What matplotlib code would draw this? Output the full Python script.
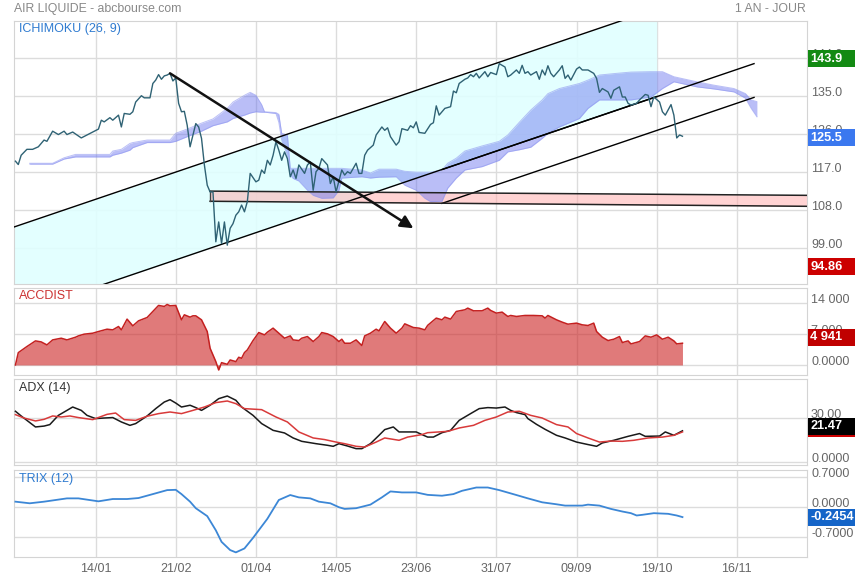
"""
plot.py

Redraws the AIR LIQUIDE daily chart (abcbourse style):
- Ichimoku panel with price, cloud, trend channel and drawings
- ACCDIST, ADX (14) and TRIX (12) panels below
"""

import matplotlib
matplotlib.use("Agg")
import matplotlib.pyplot as plt
from matplotlib.patches import Rectangle
from matplotlib.transforms import IdentityTransform, blended_transform_factory, offset_copy

plt.rcParams["font.family"] = ["Liberation Sans", "DejaVu Sans"]

W, H = 855, 580
LEFT, RIGHT = 14, 807
GRID = "#dcdcdc"
LABEL_SIZE = 9.0

# x axis: trading-day index, one label every 28 sessions
tick_pos = [28, 56, 84, 112, 140, 168, 196, 224, 252]
tick_labels = ["14/01", "21/02", "01/04", "14/05", "23/06", "31/07", "09/09", "19/10", "16/11"]

# closing price
price_idx = [0, 1, 2, 4, 6, 8, 10, 11, 13, 15, 17, 18, 20, 23, 25, 27, 29, 30, 31, 33,
             34, 36, 37, 38, 40, 41, 42, 44, 45, 47, 48, 49, 50, 51, 52, 53, 54, 55, 56, 57,
             58, 59, 60, 61, 62, 63, 64, 65, 66, 67, 68, 69, 70, 71, 72, 73, 74, 75, 76, 77,
             78, 79, 80, 81, 82, 84, 85, 86, 87, 88, 89, 90, 91, 92, 93, 94, 95, 96, 97, 98,
             99, 101, 102, 103, 104, 105, 106, 107, 109, 110, 111, 112, 114, 115, 116, 117, 119, 120, 121, 122,
             123, 125, 126, 128, 129, 130, 131, 133, 134, 135, 137, 138, 139, 140, 141, 143, 145, 146, 147, 148,
             150, 152, 153, 154, 155, 157, 158, 159, 160, 161, 162, 164, 165, 166, 168, 169, 171, 172, 173, 175,
             176, 177, 178, 179, 180, 182, 183, 184, 185, 186, 187, 188, 190, 191, 192, 193, 194, 196, 197, 198,
             200, 202, 203, 204, 205, 207, 208, 209, 211, 212, 213, 214, 215, 217, 218, 220, 221, 222, 223, 225,
             226, 227, 229, 230, 231, 232, 233]
price_close = [119.6, 118.8, 121.0, 122.4, 122.4, 123.0, 124.6, 124.3, 126.7, 125.9, 126.7, 125.9, 126.5, 125.1, 125.8, 126.5, 127.2, 129.3, 128.9, 129.9,
               129.3, 130.5, 127.7, 130.9, 130.7, 131.3, 133.6, 135.1, 134.6, 134.6, 138.0, 138.8, 140.1, 139.0, 139.8, 140.0, 140.4, 138.6, 139.3, 133.3,
               131.3, 131.4, 128.1, 123.0, 125.8, 128.5, 127.7, 125.0, 118.7, 113.9, 112.3, 112.3, 100.5, 105.2, 100.1, 105.2, 99.7, 103.7, 104.8, 106.8,
               107.6, 109.2, 107.6, 110.0, 116.7, 114.7, 115.1, 117.5, 116.7, 119.8, 118.7, 121.0, 124.2, 122.2, 119.8, 121.8, 120.2, 115.9, 117.5, 115.5,
               118.7, 116.7, 118.7, 119.4, 112.7, 117.1, 117.9, 120.2, 118.7, 114.3, 115.9, 112.3, 117.5, 116.3, 117.1, 116.7, 119.1, 116.7, 116.7, 121.0,
               122.2, 123.4, 125.8, 127.7, 126.9, 127.5, 125.4, 123.4, 124.2, 127.3, 126.9, 128.0, 127.5, 128.9, 126.4, 126.2, 128.3, 128.7, 132.7, 130.5,
               132.1, 132.5, 136.2, 135.8, 138.0, 139.0, 139.3, 140.1, 139.6, 140.4, 139.3, 140.8, 139.6, 140.6, 140.1, 142.7, 141.9, 139.6, 140.0, 141.2,
               140.4, 142.3, 140.4, 140.8, 140.0, 140.8, 139.0, 141.2, 140.0, 142.2, 140.4, 139.6, 141.2, 142.2, 139.2, 140.0, 138.8, 141.4, 141.9, 141.2,
               141.2, 140.4, 139.2, 135.9, 136.8, 136.0, 134.5, 136.4, 137.2, 134.8, 134.8, 133.3, 132.9, 133.3, 134.1, 135.4, 135.2, 132.5, 134.8, 133.6,
               131.3, 130.5, 133.0, 130.5, 125.1, 125.8, 125.5]

# Ichimoku cloud edges (projected 26 sessions ahead)
cloud_idx = [5, 13, 17, 21, 33, 34, 37, 40, 41, 46, 54, 56, 60, 65, 69, 74, 76, 80, 82, 84,
             86, 87, 91, 92, 93, 95, 96, 97, 99, 102, 104, 107, 111, 113, 114, 121, 124, 127, 133, 136,
             140, 143, 145, 149, 151, 154, 157, 163, 169, 172, 176, 180, 184, 186, 190, 197, 200, 204, 210, 215,
             222, 226, 230, 238, 244, 251, 255, 257, 259]
cloud_top = [119.1, 119.1, 120.4, 121.2, 121.2, 122.0, 122.4, 123.8, 124.0, 124.6, 124.6, 126.2, 127.2, 128.6, 129.6, 132.1, 133.6, 135.2, 135.9, 135.2,
             133.0, 131.3, 131.1, 130.7, 126.2, 125.8, 117.9, 117.9, 117.9, 117.9, 117.9, 117.9, 117.9, 117.9, 117.9, 117.5, 116.8, 117.7, 117.7, 117.2,
             117.0, 117.0, 117.0, 117.5, 119.1, 120.3, 122.0, 123.2, 124.3, 125.8, 128.8, 131.7, 134.1, 135.6, 136.8, 138.0, 138.8, 140.0, 140.4, 140.7,
             140.8, 140.8, 139.6, 138.4, 137.6, 136.8, 135.6, 134.1, 133.7]
cloud_bottom = [118.9, 118.9, 120.1, 120.6, 120.6, 121.0, 121.5, 122.2, 122.8, 124.0, 124.0, 124.3, 125.4, 126.7, 128.0, 128.9, 129.7, 130.5, 131.0, 131.3,
                131.2, 131.2, 130.9, 128.8, 124.6, 121.0, 116.3, 115.5, 114.9, 112.7, 111.5, 110.8, 110.9, 112.7, 115.6, 115.9, 115.6, 115.8, 115.9, 113.9,
                112.7, 110.8, 110.0, 110.1, 113.2, 115.6, 117.5, 118.3, 119.8, 121.8, 122.3, 122.9, 125.0, 126.2, 127.7, 129.7, 132.1, 134.1, 134.1, 134.1,
                134.8, 136.8, 138.4, 137.2, 136.7, 136.0, 134.5, 132.1, 130.1]

# drawings on the price panel
channel_x = [-0.5, 224]
channel_upper = [104.0, 155.7]
channel_lower = [83.2, 134.9]
trend_x = [149, 258]
trend_upper = [117.6, 142.7]
trend_lower = [109.6, 134.7]
band_x = [68, 277]
band_top = [112.5, 111.5]
band_bottom = [110.1, 108.9]
arrow_x = [54, 139]
arrow_y = [140.4, 103.7]

# accumulation / distribution
acc_idx = [0, 1, 4, 7, 9, 11, 13, 16, 18, 21, 22, 24, 27, 29, 32, 34, 36, 37, 39, 41,
           43, 46, 48, 50, 52, 53, 54, 56, 58, 59, 61, 62, 63, 65, 67, 68, 70, 71, 72, 74,
           75, 77, 78, 79, 80, 81, 83, 85, 87, 88, 90, 92, 94, 96, 97, 99, 100, 102, 104, 106,
           107, 109, 111, 113, 114, 115, 117, 119, 121, 122, 124, 126, 127, 129, 131, 133, 135, 136, 139, 141,
           143, 144, 147, 149, 150, 152, 154, 157, 158, 160, 163, 165, 166, 168, 170, 172, 173, 175, 178, 181,
           184, 185, 186, 189, 191, 193, 196, 198, 200, 202, 203, 205, 207, 209, 211, 212, 214, 215, 218, 220,
           222, 224, 226, 228, 230, 231, 233]
acc_val = [0, 2800, 4180, 5470, 5240, 4560, 5700, 6080, 5700, 6310, 6610, 7000, 7220, 7600, 8130, 7980, 8740, 7980, 10420, 8890,
           10030, 10790, 12160, 13530, 13300, 13750, 13450, 13530, 10260, 11400, 10870, 11170, 11170, 10260, 7600, 3800, 760, -1140, 530, 150,
           1140, 760, 1750, 1520, 2810, 3420, 5550, 7370, 6840, 7450, 8370, 7220, 6080, 6610, 5700, 5550, 6080, 6460, 5320, 6460,
           7370, 7070, 6460, 5320, 5850, 4940, 4940, 5700, 4410, 6610, 7220, 8130, 7750, 9880, 8370, 7220, 8370, 9350, 8510, 8370,
           7980, 9000, 10650, 10260, 10870, 10420, 12160, 12540, 12920, 12310, 12310, 12920, 12390, 11780, 12010, 11020, 11250, 11020, 11250, 11250,
           11170, 10650, 11250, 10260, 9730, 9270, 9510, 9120, 8970, 9510, 7600, 6310, 5550, 5850, 6460, 5090, 5470, 4790, 5320, 6610,
           6310, 6840, 5850, 6310, 5470, 4790, 4941]

# ADX (black) and its companion line (red)
adx_idx = [0, 2, 4, 7, 10, 12, 15, 18, 20, 23, 25, 28, 31, 34, 37, 40, 42, 46, 49, 52,
           54, 56, 58, 61, 63, 65, 68, 71, 74, 77, 79, 83, 86, 90, 94, 97, 100, 105, 109, 111,
           113, 116, 119, 121, 124, 127, 129, 132, 134, 140, 142, 144, 146, 149, 152, 155, 159, 162, 165, 168,
           171, 173, 175, 178, 179, 182, 185, 189, 192, 196, 200, 203, 205, 209, 214, 218, 220, 225, 227, 230,
           233]
adx_val = [34.8, 31.6, 28.6, 24.1, 24.7, 25.7, 32.0, 35.4, 37.7, 35.4, 32.0, 29.8, 30.2, 30.5, 27.5, 25.2, 26.4, 31.6, 36.6, 41.1,
           42.7, 40.4, 37.7, 38.9, 37.3, 35.4, 38.9, 43.4, 45.2, 42.3, 37.7, 32.0, 26.4, 21.8, 20.0, 16.6, 14.3, 12.7, 11.6, 10.9,
           12.7, 11.1, 9.3, 9.3, 12.7, 18.4, 22.3, 24.1, 20.7, 20.7, 18.9, 17.2, 17.2, 20.2, 21.8, 28.6, 33.2, 36.6, 37.3, 37.0,
           37.7, 35.4, 33.9, 32.5, 29.8, 25.9, 22.5, 18.4, 16.6, 13.8, 12.1, 10.9, 13.2, 15.0, 17.7, 19.6, 17.7, 17.9, 20.7, 18.4,
           21.47]
adxr_idx = [0, 3, 7, 10, 13, 16, 19, 22, 27, 32, 35, 38, 42, 46, 50, 54, 58, 62, 66, 70,
            74, 77, 80, 86, 91, 95, 99, 104, 108, 112, 115, 119, 122, 126, 129, 134, 137, 142, 144, 151,
            155, 160, 164, 168, 172, 176, 180, 184, 189, 193, 196, 200, 204, 208, 212, 216, 221, 226, 230, 233]
adxr_val = [32.5, 30.2, 28.2, 29.3, 31.6, 30.9, 31.6, 30.5, 29.1, 32.7, 33.6, 29.1, 28.6, 31.4, 33.2, 34.3, 33.2, 35.4, 37.7, 40.7,
            41.8, 40.0, 36.6, 35.9, 30.9, 27.5, 20.7, 16.6, 15.5, 13.8, 12.7, 10.9, 10.4, 13.8, 16.6, 15.0, 17.2, 18.9, 20.2, 21.1,
            23.4, 25.2, 28.6, 30.9, 34.3, 34.8, 32.0, 30.2, 25.7, 24.1, 19.6, 16.6, 13.8, 14.5, 14.3, 15.0, 16.6, 17.2, 18.4, 20.7]

# TRIX (12)
trix_idx = [0, 5, 10, 18, 22, 29, 34, 39, 43, 48, 53, 56, 58, 61, 63, 67, 70, 72, 75, 77,
            80, 83, 88, 92, 96, 99, 103, 106, 110, 113, 115, 119, 124, 128, 131, 135, 140, 144, 149, 153,
            156, 161, 165, 169, 175, 179, 184, 189, 192, 198, 200, 204, 208, 212, 215, 217, 219, 223, 228, 231,
            233]
trix_val = [0.115, 0.077, 0.115, 0.192, 0.192, 0.123, 0.177, 0.177, 0.200, 0.292, 0.385, 0.392, 0.292, 0.115, -0.038, -0.223, -0.554, -0.824, -1.016, -1.070,
            -0.978, -0.731, -0.285, 0.154, 0.270, 0.215, 0.192, 0.115, 0.077, -0.015, -0.054, -0.038, 0.046, 0.215, 0.354, 0.331, 0.331, 0.274, 0.254, 0.292,
            0.369, 0.446, 0.446, 0.385, 0.270, 0.192, 0.100, 0.054, 0.023, 0.023, 0.046, 0.023, -0.054, -0.115, -0.154, -0.208, -0.192, -0.154, -0.169, -0.208,
            -0.2454]


def make_panel(fig, top, bottom, ylim, yticks, ylabels):
    """Create one panel between pixel rows top and bottom."""
    ax = fig.add_axes([LEFT / W, 1 - bottom / H, (RIGHT - LEFT) / W, (bottom - top) / H])
    ax.set_xlim(-0.5, 276.5)
    ax.set_ylim(*ylim)
    ax.set_xticks(tick_pos)
    ax.set_xticklabels(tick_labels)
    ax.set_yticks(yticks)
    ax.set_yticklabels([])
    ax.grid(True, color=GRID, lw=1)
    ax.set_axisbelow(True)
    for s in ax.spines.values():
        s.set_color("#d4d4d4")
    ax.tick_params(axis="both", length=0, labelsize=LABEL_SIZE, labelcolor="#666666", pad=4)
    ax.tick_params(axis="x", labelbottom=False)

    # right-hand value labels sit a few pixels above their grid line
    trans = offset_copy(blended_transform_factory(ax.transAxes, ax.transData),
                        fig=fig, x=4, y=3, units="dots")
    for v, s in zip(yticks, ylabels):
        ax.text(1.0, v, s, transform=trans, color="#666666", fontsize=LABEL_SIZE,
                va="center", ha="left", clip_on=False)
    return ax


def value_box(fig, ax, value, text, color, nudge=0.0, zorder=10):
    """Coloured last-value box at the right of a panel."""
    y = ax.transData.transform((0, value))[1] + nudge
    fig.add_artist(Rectangle((808, y - 8.5), 47, 17, transform=IdentityTransform(),
                             color=color, lw=0, zorder=zorder))
    if text:
        fig.text(810.5, y, text, transform=IdentityTransform(), color="white",
                 fontsize=9.2, fontweight="bold", va="center", ha="left", zorder=zorder + 1)


def draw_price(fig):
    ax = make_panel(fig, 21, 284, (90.5, 152.8), [99, 108, 117, 126, 135, 144],
                    ["99.00", "108.0", "117.0", "126.0", "135.0", "144.0"])

    ax.fill_between(channel_x, channel_lower, channel_upper, color="#e0ffff", alpha=0.9, lw=0, zorder=1)
    ax.fill_between(band_x, band_bottom, band_top, color="#ffb0b0", alpha=0.55, lw=0, zorder=2)
    ax.fill_between(cloud_idx, cloud_bottom, cloud_top, color="#6670ee", alpha=0.45, lw=0, zorder=3)
    ax.plot(cloud_idx, cloud_top, color="#8f97f0", lw=0.7, alpha=0.6, zorder=3)
    ax.plot(cloud_idx, cloud_bottom, color="#8f97f0", lw=0.7, alpha=0.6, zorder=3)

    ax.plot(channel_x, channel_upper, color="black", lw=1.0, zorder=4)
    ax.plot(channel_x, channel_lower, color="black", lw=1.0, zorder=4)
    ax.plot(trend_x, trend_upper, color="black", lw=1.0, zorder=4)
    ax.plot(trend_x, trend_lower, color="black", lw=1.0, zorder=4)
    ax.plot(band_x, band_top, color="#222222", lw=1.1, zorder=4)
    ax.plot(band_x, band_bottom, color="#222222", lw=1.1, zorder=4)
    ax.plot([band_x[0], band_x[0]], [band_bottom[0], band_top[0]], color="#444444", lw=1.0, zorder=4)

    ax.plot(price_idx, price_close, color="#2f6274", lw=1.0, zorder=5)

    ax.annotate("", xy=(arrow_x[1], arrow_y[1]), xytext=(arrow_x[0], arrow_y[0]),
                arrowprops=dict(arrowstyle="-|>", color="#111111", lw=1.8,
                                mutation_scale=19, shrinkA=0, shrinkB=0), zorder=6)

    ax.text(0.0063, 0.9696, "ICHIMOKU (26, 9)", transform=ax.transAxes,
            color="#2f7bd0", fontsize=LABEL_SIZE, va="center")
    value_box(fig, ax, 143.9, "143.9", "#138a13")
    value_box(fig, ax, 125.5, "125.5", "#3b78ef", nudge=-1.4)
    value_box(fig, ax, 94.86, "94.86", "#cc0000", nudge=-1)


def draw_accdist(fig):
    ax = make_panel(fig, 288, 375, (-2280, 17490), [0, 7000, 14000], ["0.0000", "7 000", "14 000"])
    ax.fill_between(acc_idx, acc_val, 0, color="#cc2222", alpha=0.6, lw=0, zorder=2)
    ax.plot(acc_idx, acc_val, color="#c42020", lw=1.1, zorder=3)
    ax.text(0.0063, 0.908, "ACCDIST", transform=ax.transAxes, color="#cc3333",
            fontsize=LABEL_SIZE, va="center")
    value_box(fig, ax, 4941, "4 941", "#c00000", nudge=6)


def draw_adx(fig):
    ax = make_panel(fig, 379, 465, (-1.84, 56.8), [0, 30], ["0.0000", "30.00"])
    ax.plot(adx_idx, adx_val, color="#1a1a1a", lw=1.1, zorder=3)
    ax.plot(adxr_idx, adxr_val, color="#d83a3a", lw=1.1, zorder=3)
    ax.text(0.0063, 0.892, "ADX (14)", transform=ax.transAxes, color="#333333",
            fontsize=LABEL_SIZE, va="center")
    value_box(fig, ax, 21.47, "", "#cc0000", nudge=2.3, zorder=9)
    value_box(fig, ax, 21.47, "21.47", "#000000", nudge=4.8)


def draw_trix(fig):
    ax = make_panel(fig, 470, 557, (-1.178, 0.855), [-0.7, 0, 0.7], ["-0.7000", "0.0000", "0.7000"])
    ax.plot(trix_idx, trix_val, color="#3c87d6", lw=1.3, zorder=3)
    ax.tick_params(axis="x", labelbottom=True, pad=4)
    ax.text(0.0063, 0.897, "TRIX (12)", transform=ax.transAxes, color="#2f7bd0",
            fontsize=LABEL_SIZE, va="center")
    value_box(fig, ax, -0.2454, "-0.2454", "#1565c8")


def main() -> None:
    fig = plt.figure(figsize=(W / 100, H / 100), dpi=100)
    fig.text(14 / W, 1 - 9 / H, "AIR LIQUIDE - abcbourse.com", color="#888888", fontsize=8.8, va="center")
    fig.text(806 / W, 1 - 9 / H, "1 AN - JOUR", color="#888888", fontsize=8.8, va="center", ha="right")

    draw_price(fig)
    draw_accdist(fig)
    draw_adx(fig)
    draw_trix(fig)

    fig.savefig("out.png", dpi=100, facecolor="white")


if __name__ == "__main__":
    main()
